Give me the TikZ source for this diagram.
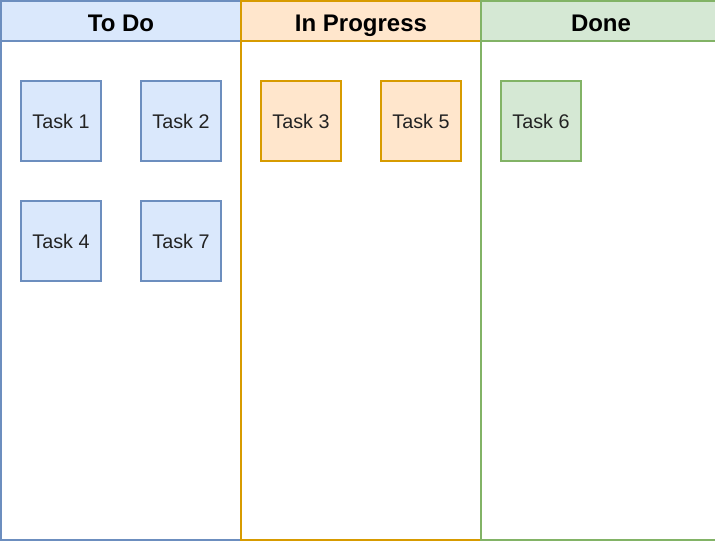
\documentclass[tikz,border=0pt]{standalone}
\usepackage{fontspec}
\setmainfont{Liberation Sans}
\usetikzlibrary{positioning}
\definecolor{todoFill}{HTML}{DAE8FC}
\definecolor{todoLine}{HTML}{6C8EBF}
\definecolor{progFill}{HTML}{FFE6CC}
\definecolor{progLine}{HTML}{D79B00}
\definecolor{doneFill}{HTML}{D5E8D4}
\definecolor{doneLine}{HTML}{82B366}
\definecolor{cardText}{HTML}{222222}
\tikzstyle{lane} = [draw, line width=1.5pt, minimum width=180pt, inner sep=0pt, outer sep=0pt]
\tikzstyle{head} = [lane, minimum height=30pt, text height=16.5pt, text depth=0pt, font=\bfseries\fontsize{18}{21}\selectfont]
\tikzstyle{body} = [lane, minimum height=374.25pt, fill=white]
\tikzstyle{task} = [draw, line width=1.5pt, minimum size=60pt, inner sep=0pt, outer sep=0pt, text=cardText, font=\fontsize{14.8}{17}\selectfont]

\begin{document}
\begin{tikzpicture}[x=0.75pt, y=-0.75pt]

    \useasboundingbox (0,0) rectangle (715,541); % keeps the page size
    \clip (0,0) rectangle (715,541);

    % the three lanes
    \foreach \lane/\title [count=\i] in {todo/To Do, prog/In Progress, done/Done}{%
        \node[head, fill=\lane Fill, draw=\lane Line] (\lane-head) at ({1+240*(\i-1)+120}, 21) {\title};
        \node[body, draw=\lane Line, below=0pt of \lane-head] (\lane-body) {};
    }

    % cards
    \node[task, fill=todoFill, draw=todoLine] (task1) at (61,121) {Task 1};
    \node[task, fill=todoFill, draw=todoLine, right=30pt of task1] (task2) {Task 2};
    \node[task, fill=todoFill, draw=todoLine, below=30pt of task1] (task4) {Task 4};
    \node[task, fill=todoFill, draw=todoLine, below=30pt of task2] (task7) {Task 7};

    \node[task, fill=progFill, draw=progLine, right=30pt of task2] (task3) {Task 3};
    \node[task, fill=progFill, draw=progLine, right=30pt of task3] (task5) {Task 5};

    \node[task, fill=doneFill, draw=doneLine, right=30pt of task5] (task6) {Task 6};

\end{tikzpicture}
\end{document}
